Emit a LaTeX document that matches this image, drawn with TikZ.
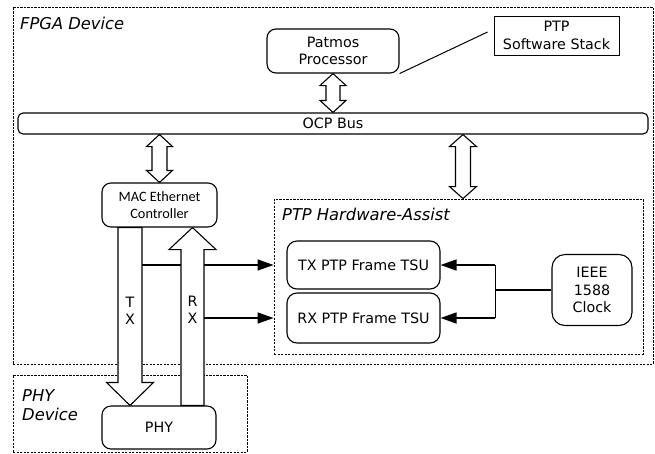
\documentclass[tikz,border=0pt]{standalone}
\usepackage{fontspec}
\setmainfont{DejaVu Sans}
\newfontfamily\macfont{Carlito}
\usetikzlibrary{arrows.meta,calc}
\newcommand\diagfont{\fontsize{14.3}{17.5}\selectfont}
\newcommand\labfont{\fontsize{16.3}{18.5}\selectfont\itshape}
\newcommand\dblarr[5]{%
  \draw[bigarrow] (#1) -- ($(#1)+(#4,#5)$) -- ($(#1)+(#3,#5)$) -- ($(#2)+(#3,-#5)$) -- ($(#2)+(#4,-#5)$) -- (#2)
    -- ($(#2)+(-#4,-#5)$) -- ($(#2)+(-#3,-#5)$) -- ($(#1)+(-#3,#5)$) -- ($(#1)+(-#4,#5)$) -- cycle;}
\begin{document}
\begin{tikzpicture}[x=1pt,y=-1pt,
  box/.style={draw, line width=1.1pt, rounded corners=9pt, inner sep=0pt, align=center, font=\diagfont, fill=white},
  dbox/.style={draw, line width=0.9pt, dash pattern=on 2.2pt off 1.3pt, inner sep=0pt},
  lab/.style={font=\labfont, inner sep=0pt},
  bigarrow/.style={draw, line width=1.1pt, fill=white, line join=miter},
  conn/.style={line width=1.4pt},
  arrowtip/.style={-{Triangle[length=16pt,width=11pt]}}]
\useasboundingbox (0,0) rectangle (655,453);
% containers
\node[dbox, minimum width=640, minimum height=357] (fpga) at (333,185.5) {};
\node[dbox, minimum width=369, minimum height=155] (hwa) at (458.5,276.5) {};
\node[dbox, minimum width=234, minimum height=77] (phydev) at (130,413.5) {};
\node[lab, anchor=base west] (fpgalab) at (20,29) {FPGA Device};
\node[lab, anchor=base west] (hwalab) at (282,220) {PTP Hardware-Assist};
\node[lab, anchor=base west, align=left] (phylab) at (22,420) {PHY\\Device};
% boxes
\node[box, minimum width=132, minimum height=44] (patmos) at (333,51) {Patmos\\Processor};
\node[box, rounded corners=0pt, line width=0.9pt, minimum width=125, minimum height=39] (ptpsw) at (556.5,35.5) {PTP\\Software Stack};
\node[box, rounded corners=5pt, minimum width=630, minimum height=21] (ocp) at (333,123.5) {OCP Bus};
\node[box, font=\macfont\diagfont, minimum width=115, minimum height=44] (mac) at (159.5,205) {MAC Ethernet\\Controller};
\node[box, rounded corners=10pt, minimum width=153, minimum height=48] (tx) at (363.5,265) {TX PTP Frame TSU};
\node[box, rounded corners=10pt, minimum width=153, minimum height=50] (rx) at (363.5,318) {RX PTP Frame TSU};
\node[box, rounded corners=13pt, minimum width=80, minimum height=71] (clock) at (592,290) {IEEE\\1588\\Clock};
\node[box, minimum width=114, minimum height=43] (phy) at (159,427.5) {PHY};
% software stack link
\draw[line width=1pt] (patmos.south east) -- ($(ptpsw.west)+(-6,-3.5)$);
% bus arrows
\coordinate (a1t) at (patmos.south);
\coordinate (a1b) at (ocp.north);
\dblarr{a1t}{a1b}{7}{13}{12}
\coordinate (a2t) at (mac.north |- ocp.south);
\coordinate (a2b) at (mac.north);
\dblarr{a2t}{a2b}{7.5}{13}{12}
\coordinate (a3t) at ($(ocp.south)+(130,0)$);
\coordinate (a3b) at (a3t |- hwa.north);
\dblarr{a3t}{a3b}{7.5}{13.5}{12}
% TX / RX big arrows
\coordinate (txt) at ($(mac.south)+(-29.5,0)$);
\coordinate (txb) at (txt |- phy.north);
\coordinate (txr) at ($(txt)+(12,0)$);
\coordinate (rxb) at ($(phy.north)+(33.5,0)$);
\coordinate (rxt) at (rxb |- mac.south);
\coordinate (rxr) at ($(rxb)+(11.5,0)$);
\draw[conn, arrowtip] (txr |- tx.west) -- (hwa.west |- tx.west);
\draw[bigarrow] ($(txt)+(-12,0)$) -- ($(txb)+(-12,-23)$) -- ($(txb)+(-23.5,-23)$) -- (txb) -- ($(txb)+(23.5,-23)$) -- ($(txb)+(12,-23)$) -- (txr) -- cycle;
\draw[bigarrow] ($(rxb)+(-11.5,0)$) -- ($(rxt)+(-11.5,22)$) -- ($(rxt)+(-23.5,22)$) -- (rxt) -- ($(rxt)+(23.5,22)$) -- ($(rxt)+(11.5,22)$) -- (rxr) -- cycle;
\draw[conn, arrowtip] (rxr |- rx.west) -- (hwa.west |- rx.west);
\node[font=\diagfont, align=center, inner sep=0pt] (txlab) at ($(txt)+(0,83)$) {T\\X};
\node[font=\diagfont, align=center, inner sep=0pt] (rxlab) at ($(rxt)+(0,82)$) {R\\X};
% clock distribution
\coordinate (j) at ($(clock.west)+(-56,0)$);
\draw[conn] (clock.west) -- (j);
\draw[conn] (j |- tx.east) -- (j |- rx.east);
\draw[conn, arrowtip] (j |- tx.east) -- (tx.east);
\draw[conn, arrowtip] (j |- rx.east) -- (rx.east);
\end{tikzpicture}
\end{document}
